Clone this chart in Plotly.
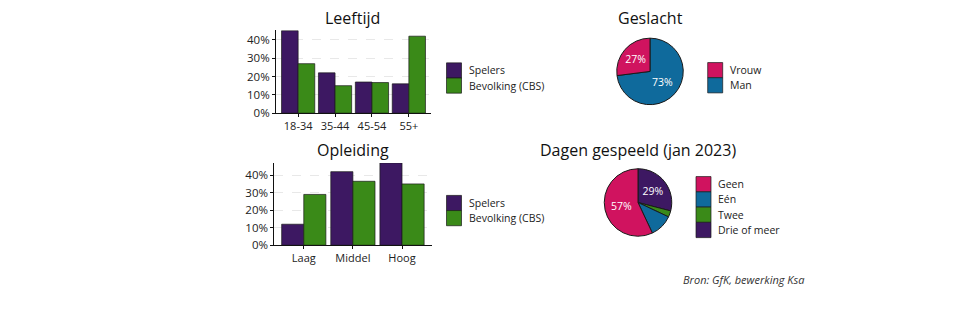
import plotly.graph_objects as go

W, H = 966, 322

# ---- data ----
age_cats = ["18-34", "35-44", "45-54", "55+"]
age_spelers = [45, 22, 17, 16]
age_bevolking = [27, 15, 16.7, 42]

edu_cats = ["Laag", "Middel", "Hoog"]
edu_spelers = [12, 42, 47]
edu_bevolking = [29, 36.5, 35]

series_names = ["Spelers", "Bevolking (CBS)"]

gender_labels = ["Vrouw", "Man"]
gender_values = [27, 73]

days_labels = ["Geen", "Eén", "Twee", "Drie of meer"]
days_values = [57, 11, 3, 29]

y_tick_values = [0, 10, 20, 30, 40]
y_tick_labels = [f"{v}%" for v in y_tick_values]

# ---- styles ----
PURPLE = "#3d1862"
GREEN = "#3a8a18"
PINK = "#d0135f"
BLUE = "#0f6a9c"
FONT = "Open Sans"
OUTLINE = "#1a1a1a"

series_colors = [PURPLE, GREEN]
gender_colors = [PINK, BLUE]
days_colors = [PINK, BLUE, GREEN, PURPLE]


def px_x(x):
    return x / W


def px_y(y):
    return 1 - y / H


fig = go.Figure()

# bar charts
for xa, ya, cats, vals_list in [
    ("x", "y", age_cats, [age_spelers, age_bevolking]),
    ("x2", "y2", edu_cats, [edu_spelers, edu_bevolking]),
]:
    for name, vals, col in zip(series_names, vals_list, series_colors):
        fig.add_trace(go.Bar(
            x=cats, y=vals, name=name, xaxis=xa, yaxis=ya,
            marker=dict(color=col, line=dict(color=OUTLINE, width=0.7)),
            showlegend=False, hoverinfo="skip",
        ))


def pct_text(vals, minv=20):
    return [f"{v}%" if v >= minv else "" for v in vals]


def add_pie(labels, values, colors, dom_x, dom_y):
    # slices run counterclockwise from 12 o'clock in the listed order;
    # plotted clockwise in reversed order so the last one ends at 12 o'clock
    labs = labels[::-1]
    vals = values[::-1]
    cols = colors[::-1]
    fig.add_trace(go.Pie(
        labels=labs, values=vals, sort=False,
        direction="clockwise", rotation=0,
        marker=dict(colors=cols, line=dict(color=OUTLINE, width=1)),
        text=pct_text(vals), textinfo="text", textposition="inside",
        insidetextorientation="horizontal",
        insidetextfont=dict(color="white", size=10.5, family=FONT),
        domain=dict(x=dom_x, y=dom_y),
        showlegend=False, hoverinfo="skip",
    ))


add_pie(gender_labels, gender_values, gender_colors,
        [px_x(616), px_x(684)], [px_y(107), px_y(39)])
add_pie(days_labels, days_values, days_colors,
        [px_x(603.5), px_x(672.5)], [px_y(241.5), px_y(172.5)])

axis_common = dict(
    showline=True, linecolor="#111", linewidth=1,
    ticks="outside", ticklen=3, tickcolor="#111",
    zeroline=False,
)

fig.update_layout(
    width=W, height=H, margin=dict(l=0, r=0, t=0, b=0),
    paper_bgcolor="white", plot_bgcolor="white",
    barmode="group", bargap=0.1, bargroupgap=0,
    font=dict(family=FONT, color="#222"),
    xaxis=dict(domain=[px_x(276), px_x(431)], range=[-0.6, 3.6],
               anchor="y", showgrid=False,
               tickfont=dict(family=FONT, size=11, color="#222"), **axis_common),
    yaxis=dict(domain=[px_y(115.7), px_y(31)], range=[0, 45.2],
               anchor="x", tickmode="array", tickvals=y_tick_values, ticktext=y_tick_labels,
               showgrid=True, gridcolor="#e8e8e8", griddash="dash", gridwidth=1,
               tickfont=dict(family=FONT, size=11.5, color="#222"), **axis_common),
    xaxis2=dict(domain=[px_x(274.3), px_x(431.5)], range=[-0.6, 2.6],
                anchor="y2", showgrid=False,
                tickfont=dict(family=FONT, size=11, color="#222"), **axis_common),
    yaxis2=dict(domain=[px_y(250.7), px_y(166.7)], range=[0, 46.9],
                anchor="x2", tickmode="array", tickvals=y_tick_values, ticktext=y_tick_labels,
                showgrid=True, gridcolor="#e8e8e8", griddash="dash", gridwidth=1,
                tickfont=dict(family=FONT, size=11.5, color="#222"), **axis_common),
)

annotations = []
shapes = []

# titles
for text, cx, cy in [("Leeftijd", 352, 18), ("Opleiding", 353, 153),
                     ("Geslacht", 650, 18), ("Dagen gespeeld (jan 2023)", 638, 153)]:
    annotations.append(dict(text=text, x=px_x(cx), y=px_y(cy), xref="paper", yref="paper",
                            showarrow=False, xanchor="center", yanchor="middle",
                            font=dict(family=FONT, size=16, color="#111")))


# manual legends
def add_legend(labels, colors, x0, centers, kw=15, kh=15.5):
    for lab, col, cy in zip(labels, colors, centers):
        shapes.append(dict(type="rect", xref="paper", yref="paper",
                           x0=px_x(x0), x1=px_x(x0 + kw),
                           y0=px_y(cy + kh / 2), y1=px_y(cy - kh / 2),
                           fillcolor=col, line=dict(color=OUTLINE, width=0.7)))
        annotations.append(dict(text=lab, x=px_x(x0 + kw + 5), y=px_y(cy),
                                xref="paper", yref="paper", showarrow=False,
                                xanchor="left", yanchor="middle",
                                font=dict(family=FONT, size=10.5, color="#222")))


add_legend(series_names, series_colors, 446.5, [72, 87.5])
add_legend(series_names, series_colors, 446.5, [207.5, 223])
add_legend(gender_labels, gender_colors, 707.7, [71.7, 87.2])
add_legend(days_labels, days_colors, 696, [188.3, 203.9, 219.5, 235.1], kh=15.6)

annotations.append(dict(text="<i>Bron: GfK, bewerking Ksa</i>", x=px_x(806), y=px_y(285.5),
                        xref="paper", yref="paper", showarrow=False,
                        xanchor="right", yanchor="middle",
                        font=dict(family=FONT, size=11, color="#333")))

fig.update_layout(annotations=annotations, shapes=shapes)

fig.write_html("out.html")
